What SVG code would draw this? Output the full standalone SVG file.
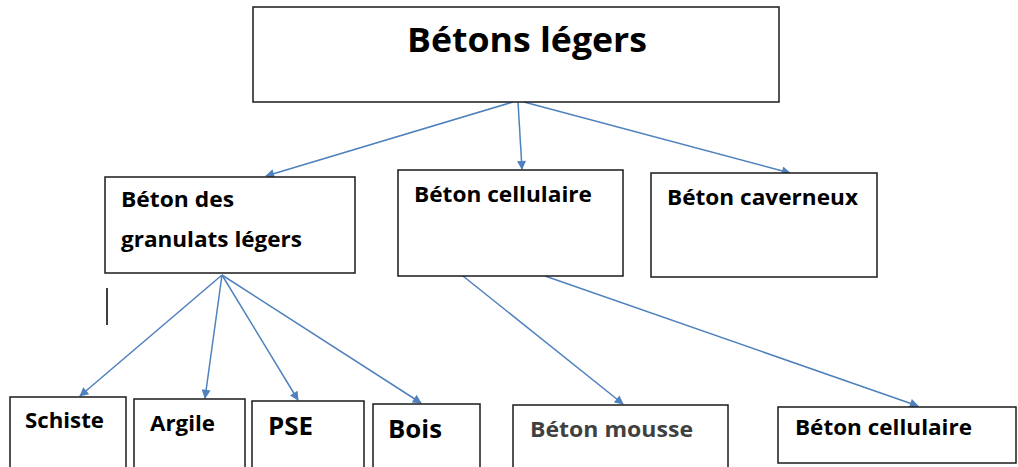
<svg xmlns="http://www.w3.org/2000/svg" width="1018" height="467" viewBox="0 0 1018 467">
<style>
.box{fill:#fff;stroke:#1a1a1a;stroke-width:1.5}
.t{font-family:"Open Sans",Lato,sans-serif;font-weight:bold;fill:#000}
.c{stroke:#4f81bd;stroke-width:1.5;fill:none;marker-end:url(#ah)}
</style>
<defs>
<marker id="ah" viewBox="0 0 10 10" refX="9" refY="5" markerWidth="10" markerHeight="9" markerUnits="userSpaceOnUse" orient="auto">
<path d="M0,0 L10,5 L0,10 z" fill="#4f81bd"/>
</marker>
</defs>
<rect width="1018" height="467" fill="#fff"/>
<g id="connectors">
<line class="c" x1="513" y1="102" x2="266" y2="176"/>
<line class="c" x1="518" y1="102" x2="522" y2="169"/>
<line class="c" x1="524" y1="102" x2="790" y2="173"/>
<line class="c" x1="222" y1="275" x2="80" y2="396"/>
<line class="c" x1="222" y1="275" x2="205" y2="398"/>
<line class="c" x1="222" y1="275" x2="298" y2="400"/>
<line class="c" x1="222" y1="275" x2="421" y2="403"/>
<line class="c" x1="458" y1="272" x2="623" y2="404"/>
<line class="c" x1="545" y1="276" x2="918" y2="406"/>
</g>
<g id="n-root"><rect class="box" x="253" y="7" width="526" height="95"/><text class="t" x="407" y="52" font-size="34" textLength="240" lengthAdjust="spacingAndGlyphs">Bétons légers</text></g>
<g id="n-granulats"><rect class="box" x="105" y="177" width="250" height="96"/><text class="t" x="121" y="207" font-size="21" textLength="113" lengthAdjust="spacingAndGlyphs">Béton des</text><text class="t" x="121" y="247" font-size="21" textLength="181" lengthAdjust="spacingAndGlyphs">granulats légers</text></g>
<line x1="107" y1="288" x2="107" y2="325" stroke="#000" stroke-width="1.5"/>
<g id="n-cellulaire"><rect class="box" x="398" y="170" width="225" height="106"/><text class="t" x="414" y="202" font-size="21" textLength="178" lengthAdjust="spacingAndGlyphs">Béton cellulaire</text></g>
<g id="n-caverneux"><rect class="box" x="651" y="173" width="226" height="104"/><text class="t" x="667" y="205" font-size="21" textLength="191" lengthAdjust="spacingAndGlyphs">Béton caverneux</text></g>
<g id="n-schiste"><rect class="box" x="10" y="397" width="116" height="80"/><text class="t" x="25" y="428" font-size="21" textLength="79" lengthAdjust="spacingAndGlyphs">Schiste</text></g>
<g id="n-argile"><rect class="box" x="134" y="399" width="111" height="80"/><text class="t" x="150" y="431" font-size="21" textLength="65" lengthAdjust="spacingAndGlyphs">Argile</text></g>
<g id="n-pse"><rect class="box" x="252" y="401" width="112" height="80"/><text class="t" x="268" y="435" font-size="25" textLength="45" lengthAdjust="spacingAndGlyphs">PSE</text></g>
<g id="n-bois"><rect class="box" x="373" y="404" width="107" height="80"/><text class="t" x="388" y="438" font-size="25" textLength="54" lengthAdjust="spacingAndGlyphs">Bois</text></g>
<g id="n-mousse"><rect class="box" x="513" y="405" width="215" height="80"/><text class="t" x="530" y="437" font-size="21" textLength="163" lengthAdjust="spacingAndGlyphs" style="fill:#404040">Béton mousse</text></g>
<g id="n-cellulaire2"><rect class="box" x="778" y="407" width="238" height="56"/><text class="t" x="795" y="435" font-size="21" textLength="177" lengthAdjust="spacingAndGlyphs">Béton cellulaire</text></g>
</svg>
